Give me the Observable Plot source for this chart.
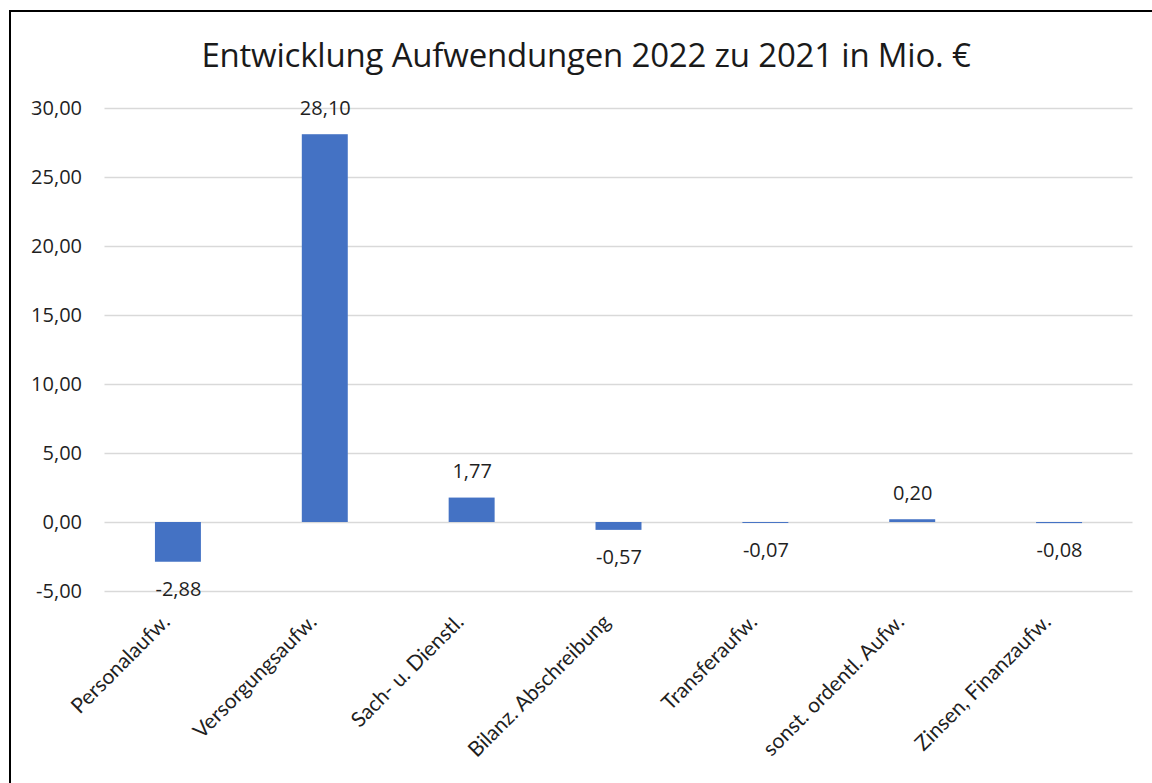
<!DOCTYPE html>
<html>
<head>
<meta charset="utf-8">
<script src="https://cdn.jsdelivr.net/npm/d3@7"></script>
<script src="https://cdn.jsdelivr.net/npm/@observablehq/plot@0.6"></script>
<style>
  html, body { margin: 0; padding: 0; background: #fff; width: 1152px; height: 783px; overflow: hidden; }
  #frame { position: absolute; left: 9px; top: 10px; width: 1300px; height: 900px; border: 2px solid #000; box-sizing: border-box; }
  #title { position: absolute; left: 0; top: 35px; width: 1172px; height: 40px; line-height: 40px; text-align: center;
           font-family: "Open Sans", sans-serif; font-size: 33px; color: #1a1a1a; white-space: nowrap; letter-spacing: -0.2px; }
  #chart { position: absolute; left: 0; top: 95px; }
</style>
</head>
<body>
<div id="frame"></div>
<div id="title">Entwicklung Aufwendungen 2022 zu 2021 in Mio. €</div>
<div id="chart"></div>
<script>
const categories = ["Personalaufw.", "Versorgungsaufw.", "Sach- u. Dienstl.", "Bilanz. Abschreibung", "Transferaufw.", "sonst. ordentl. Aufw.", "Zinsen, Finanzaufw."];
const values = [-2.88, 28.10, 1.77, -0.57, -0.07, 0.20, -0.08];
const yTicks = [-5, 0, 5, 10, 15, 20, 25, 30];

const data = categories.map((c, i) => ({category: c, value: values[i]}));
const fmt = v => v.toFixed(2).replace(".", ",");
const textColor = "#1f1f1f";

const chart = Plot.plot({
  width: 1152,
  height: 688,
  marginTop: 13,
  marginBottom: 192,
  marginLeft: 104.5,
  marginRight: 19.5,
  style: {fontFamily: "Open Sans, sans-serif", color: textColor, background: "transparent"},
  x: {domain: categories, paddingInner: 0.687, paddingOuter: 0.3435, round: false, label: null},
  y: {domain: [-5, 30], label: null},
  marks: [
    Plot.gridY(yTicks, {stroke: "#d9d9d9", strokeOpacity: 1, strokeWidth: 1.5}),
    Plot.barY(data, {x: "category", y: "value", fill: "#4472C4"}),
    Plot.text(data.filter(d => d.value >= 0), {x: "category", y: "value", text: d => fmt(d.value), dy: -26, fontSize: 20, fill: textColor}),
    Plot.text(data.filter(d => d.value < 0), {x: "category", y: "value", text: d => fmt(d.value), dy: 27, fontSize: 20, fill: textColor}),
    Plot.axisY(yTicks, {tickSize: 0, tickPadding: 23, tickFormat: fmt, fontSize: 20, label: null}),
    Plot.axisX({tickSize: 0, tickRotate: -45, tickPadding: 27, dx: -12, fontSize: 21, fontFamily: "Lato, sans-serif", label: null})
  ]
});
document.getElementById("chart").appendChild(chart);
</script>
</body>
</html>
